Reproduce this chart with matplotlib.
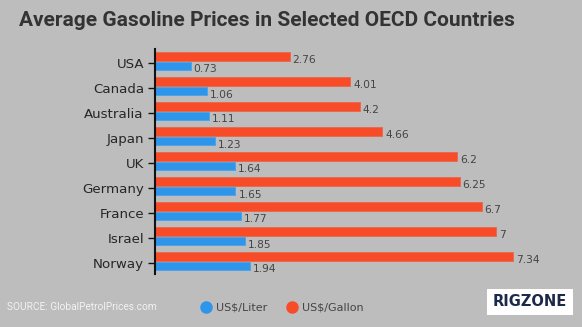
import matplotlib
matplotlib.use("Agg")
import matplotlib.pyplot as plt
from matplotlib.lines import Line2D
from matplotlib.patches import Rectangle
import numpy as np

countries = ["USA", "Canada", "Australia", "Japan", "UK", "Germany", "France", "Israel", "Norway"]
per_liter = [0.73, 1.06, 1.11, 1.23, 1.64, 1.65, 1.77, 1.85, 1.94]
per_gallon = [2.76, 4.01, 4.2, 4.66, 6.2, 6.25, 6.7, 7, 7.34]
liter_labels = ["0.73", "1.06", "1.11", "1.23", "1.64", "1.65", "1.77", "1.85", "1.94"]
gallon_labels = ["2.76", "4.01", "4.2", "4.66", "6.2", "6.25", "6.7", "7", "7.34"]

BG = "#bdbdbd"
BLUE = "#2e95ea"
ORANGE = "#f84c29"

fig = plt.figure(figsize=(5.82, 3.27), dpi=100, facecolor=BG)
ax = fig.add_axes([155 / 582, 53 / 327, 390 / 582, 225 / 327], facecolor=BG)

y = np.arange(len(countries))
h = 0.34
ax.barh(y - 0.25, per_gallon, height=h, color=ORANGE, edgecolor="#e8674c", linewidth=0.6)
ax.barh(y + 0.12, per_liter, height=h, color=BLUE, edgecolor="#4aa3ea", linewidth=0.6)

for yi, v, s in zip(y, per_gallon, gallon_labels):
    ax.text(v + 0.06, yi - 0.1, s, va="center", ha="left", fontsize=7.7, color="#444444",
            family="DejaVu Sans")
for yi, v, s in zip(y, per_liter, liter_labels):
    ax.text(v + 0.06, yi + 0.27, s, va="center", ha="left", fontsize=7.7, color="#444444",
            family="DejaVu Sans")

ax.set_xlim(0, 8)
ax.set_ylim(8.45, -0.55)
ax.set_yticks(y)
ax.set_yticklabels(countries, fontsize=9.6, color="#262626", family="DejaVu Sans")
ax.set_xticks([])
ax.tick_params(axis="y", length=5, width=1, color="#111111", pad=3)
for side in ["top", "right", "bottom"]:
    ax.spines[side].set_visible(False)
ax.spines["left"].set_color("#111111")
ax.spines["left"].set_linewidth(1.5)

fig.text(267 / 582, 1 - 20 / 327, "Average Gasoline Prices in Selected OECD Countries",
         ha="center", va="center", fontsize=15, fontweight="bold", color="#333333",
         family="Roboto")

fig.text(7 / 582, 1 - 307 / 327, "SOURCE: GlobalPetrolPrices.com", ha="left", va="center",
         fontsize=7.3, color="#f2f2f2", family="Roboto")

handles = [
    Line2D([], [], marker="o", linestyle="", markersize=8, color=BLUE, label="US$/Liter"),
    Line2D([], [], marker="o", linestyle="", markersize=8, color=ORANGE, label="US$/Gallon"),
]
leg = fig.legend(handles=handles, loc="center", bbox_to_anchor=(282 / 582, 1 - 308 / 327), ncol=2,
                 frameon=False, fontsize=8, handletextpad=0.4, columnspacing=1.8,
                 handlelength=1.0)
for t in leg.get_texts():
    t.set_color("#444444")

fig.patches.append(Rectangle((487 / 582, 1 - 315 / 327), 86 / 582, 26 / 327,
                             transform=fig.transFigure, facecolor="white", edgecolor="none"))
fig.text(530 / 582, 1 - 302 / 327, "RIGZONE", ha="center", va="center", fontsize=10.5,
         fontweight="bold", color="#1b2a4a", family="DejaVu Sans")

fig.savefig("out.png", dpi=100, facecolor=BG)
